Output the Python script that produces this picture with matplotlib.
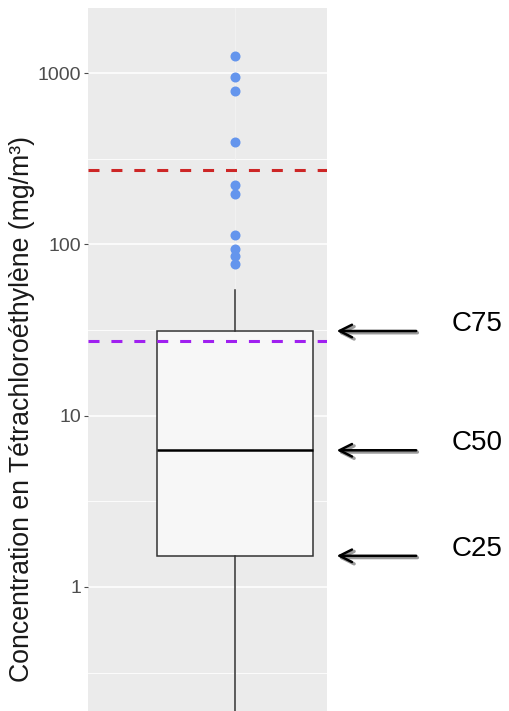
import matplotlib
matplotlib.use("Agg")
import matplotlib.pyplot as plt
import matplotlib.transforms as mtransforms
import numpy as np

plt.rcParams["font.family"] = ["Liberation Sans", "DejaVu Sans"]

# box statistics (mg/m3)
q1, median, q3 = 1.52, 6.28, 31.2
whisker_low, whisker_high = 0.1, 54.2
outliers = [1252, 953, 785, 398, 223, 196, 114, 94, 85, 76.4]
limit_red = 272
limit_purple = 27.4
arrow_labels = ["C75", "C50", "C25"]
arrow_values = [q3, median, q1]
y_ticks = [1, 10, 100, 1000]
y_ticklabels = ["1", "10", "100", "1000"]
y_minor = [0.316, 3.16, 31.6, 316]

fig = plt.figure(figsize=(5.09, 7.11), dpi=100)
ax = fig.add_axes([88 / 509, 0, 239 / 509, 703 / 711])
ax.set_facecolor("#EBEBEB")
for s in ax.spines.values():
    s.set_visible(False)

ax.set_yscale("log")
ax.set_ylim(0.1888, 2396)
ax.set_xlim(-0.711, 0.445)

# grid
for v in y_ticks:
    ax.axhline(v, color="white", lw=1.1, zorder=0)
for v in y_minor:
    ax.axhline(v, color="white", lw=0.6, zorder=0)
ax.axvline(0, color="#F3F3F3", lw=0.6, zorder=0)

# boxplot
ax.bxp([{"med": median, "q1": q1, "q3": q3, "whislo": whisker_low,
         "whishi": whisker_high, "fliers": outliers}],
       positions=[0], widths=0.75, patch_artist=True, showcaps=False,
       boxprops=dict(facecolor="#F7F7F7", edgecolor="#333333", lw=1.1),
       whiskerprops=dict(color="#333333", lw=1.1),
       medianprops=dict(color="black", lw=1.8),
       flierprops=dict(marker="o", markerfacecolor="#6495ED",
                       markeredgecolor="#6495ED", markersize=6.2),
       zorder=2)

# reference lines
ax.axhline(limit_red, color="#CD2626", lw=2.2, dashes=(3.6, 3.9), zorder=3)
ax.axhline(limit_purple, color="#A020F0", lw=2.2, dashes=(3.6, 3.9), zorder=3)

ax.set_xticks([])
ax.set_yticks(y_ticks)
ax.set_yticklabels(y_ticklabels)
ax.yaxis.set_minor_locator(matplotlib.ticker.NullLocator())
ax.tick_params(axis="y", colors="#4D4D4D", labelsize=14, length=3,
               width=0.8, pad=2)
fig.text(22 / 509, 1 - 409 / 711, "Concentration en Tétrachloroéthylène (mg/m³)",
         rotation=90, fontsize=19.2, color="#1A1A1A", ha="center", va="center")

# arrows pointing at quartiles
trans = mtransforms.blended_transform_factory(ax.transAxes, ax.transData)
shadow = mtransforms.offset_copy(trans, fig=fig, x=1.2, y=-1.8, units="dots")
for label, val in zip(arrow_labels, arrow_values):
    ax.annotate("", xy=(1.029, val), xycoords=shadow,
                xytext=(1.385, val), textcoords=shadow,
                arrowprops=dict(arrowstyle="->,head_length=0.9,head_width=0.45",
                                color="#9A9A9A", lw=2.4),
                annotation_clip=False)
    ax.annotate("", xy=(1.029, val), xycoords=trans,
                xytext=(1.385, val), textcoords=trans,
                arrowprops=dict(arrowstyle="->,head_length=0.9,head_width=0.45",
                                color="black", lw=1.8),
                annotation_clip=False)
    ax.text(1.52, val * 1.1, label, transform=trans, fontsize=20,
            va="center", ha="left", color="black")

fig.savefig("out.png", dpi=100)
